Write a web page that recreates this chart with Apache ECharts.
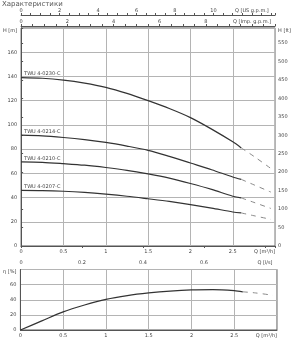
<!DOCTYPE html>
<html>
<head>
<meta charset="utf-8">
<script src="https://cdn.jsdelivr.net/npm/echarts@6/dist/echarts.min.js"></script>
<style>
  html, body { margin: 0; padding: 0; background: #fff; }
  #chart { width: 294px; height: 340px; }
</style>
</head>
<body>
<div id="chart"></div>
<script>
// flow points, m3/h
var q = [0, 0.25, 0.5, 0.75, 1, 1.25, 1.5, 1.75, 2, 2.25, 2.5, 2.6];
var h0230 = [139, 138.5, 137, 134.5, 131, 126, 120, 113.5, 106, 96.5, 86, 81];
var h0214 = [91.5, 91, 89.6, 87.8, 85.5, 82.5, 79, 74, 68.5, 63, 57, 55];
var h0210 = [69.5, 69.1, 68, 66.7, 64.8, 62.5, 59.5, 56, 51.6, 46.7, 41.1, 39.7];
var h0207 = [46, 45.8, 45.2, 44.2, 42.8, 41.1, 39, 36.8, 34.2, 31.3, 28.1, 27.3];
var eta = [0, 12, 24, 33, 40.5, 45.5, 49, 51.5, 53, 53.3, 52, 50.5];

// dashed continuation beyond the working range
var qx = [2.6, 2.75, 2.95];
var x0230 = [81, 74, 64];
var x0214 = [55, 50.5, 44.5];
var x0210 = [39.7, 36, 31];
var x0207 = [27.3, 25, 22];
var xeta = [50.5, 49, 46];

var names = ['TWU 4-0230-C', 'TWU 4-0214-C', 'TWU 4-0210-C', 'TWU 4-0207-C'];
var heads = [h0230, h0214, h0210, h0207];
var extra = [x0230, x0214, x0210, x0207];

var qMax = 3;
var hMax = 180;
var font = 'DejaVu Sans';
var lbl = { fontSize: 5, color: '#444', fontFamily: font };

function pairs(xs, ys) {
    return xs.map(function (x, i) { return [x, ys[i]]; });
}
function fmtNum(v) {
    return String(Math.round(v * 100) / 100);
}

var chart = echarts.init(document.getElementById('chart'));

var series = [];
heads.forEach(function (h, i) {
    series.push({
        name: names[i],
        type: 'line',
        xAxisIndex: 0,
        yAxisIndex: 0,
        data: pairs(q, h),
        smooth: 0.3,
        symbol: 'none',
        lineStyle: { color: '#333', width: 1.2 },
        markPoint: {
            symbol: 'circle',
            symbolSize: 0,
            silent: true,
            data: [{ coord: [q[0], h[0]] }],
            label: {
                show: true,
                position: 'top',
                distance: 1,
                align: 'left',
                offset: [3, 0],
                formatter: names[i],
                fontSize: 5,
                color: '#444',
                fontFamily: font
            }
        }
    });
    series.push({
        type: 'line',
        xAxisIndex: 0,
        yAxisIndex: 0,
        data: pairs(qx, extra[i]),
        smooth: 0.3,
        symbol: 'none',
        lineStyle: { color: '#888', width: 1, type: [5, 5] }
    });
});
series.push({
    type: 'line',
    xAxisIndex: 4,
    yAxisIndex: 2,
    data: pairs(q, eta),
    smooth: 0.3,
    symbol: 'none',
    lineStyle: { color: '#333', width: 1.2 }
});
series.push({
    type: 'line',
    xAxisIndex: 4,
    yAxisIndex: 2,
    data: pairs(qx, xeta),
    smooth: 0.3,
    symbol: 'none',
    lineStyle: { color: '#888', width: 1, type: [5, 5] }
});

var gridLine = { show: true, lineStyle: { color: '#b4b4b4', width: 1 } };
var darkLine = { show: true, lineStyle: { color: '#555', width: 1 } };
var tick = { show: true, length: 2, lineStyle: { color: '#555' } };

var option = {
    animation: false,
    title: {
        text: 'Характеристики',
        left: 0,
        top: 0,
        padding: [1, 2],
        textStyle: { fontSize: 7, fontWeight: 'normal', color: '#555', fontFamily: font }
    },
    grid: [
        { left: 19, top: 28, right: 17, height: 218, show: true, borderColor: '#555', borderWidth: 1 },
        { left: 19, top: 269.5, right: 17, height: 60.5, show: true, borderColor: '#555', borderWidth: 1 }
    ],
    xAxis: [
        {   // m3/h, main
            type: 'value', gridIndex: 0, position: 'bottom',
            min: 0, max: qMax, interval: 0.5,
            axisLine: darkLine, axisTick: { show: false },
            splitLine: gridLine,
            axisLabel: Object.assign({}, lbl, {
                margin: 3, alignMaxLabel: 'right',
                formatter: function (v) { return v >= qMax ? 'Q [m³/h]' : fmtNum(v); }
            })
        },
        {   // l/s
            type: 'value', gridIndex: 0, position: 'bottom', offset: 11,
            min: 0, max: qMax / 3.6, interval: 0.2,
            axisLine: darkLine, axisTick: tick,
            splitLine: { show: false },
            axisLabel: Object.assign({}, lbl, {
                margin: 3,
                formatter: function (v) {
                    if (Math.abs(v - 0.8) < 1e-6) return 'Q [l/s]';
                    if (v > 0.81) return '';
                    return fmtNum(v);
                }
            })
        },
        {   // US gpm
            type: 'value', gridIndex: 0, position: 'top', offset: 13,
            min: 0, max: qMax * 4.40287, interval: 0.5,
            axisLine: darkLine, axisTick: tick,
            splitLine: { show: false },
            axisLabel: Object.assign({}, lbl, {
                margin: 2,
                formatter: function (v) {
                    if (Math.abs(v - 12) < 1e-6) return 'Q [US g.p.m.]';
                    if (Math.abs(v % 2) < 1e-6 && v < 12) return fmtNum(v);
                    return '';
                }
            })
        },
        {   // Imp gpm
            type: 'value', gridIndex: 0, position: 'top', offset: 2,
            min: 0, max: qMax * 3.66615, interval: 0.5,
            axisLine: darkLine, axisTick: tick,
            splitLine: { show: false },
            axisLabel: Object.assign({}, lbl, {
                margin: 2,
                formatter: function (v) {
                    if (Math.abs(v - 10) < 1e-6) return 'Q [Imp. g.p.m.]';
                    if (Math.abs(v % 2) < 1e-6 && v < 10) return fmtNum(v);
                    return '';
                }
            })
        },
        {   // m3/h, efficiency
            type: 'value', gridIndex: 1, position: 'bottom',
            min: 0, max: qMax, interval: 0.5,
            axisLine: darkLine, axisTick: { show: false },
            splitLine: gridLine,
            axisLabel: Object.assign({}, lbl, {
                margin: 3, alignMaxLabel: 'right',
                formatter: function (v) { return v >= qMax ? 'Q [m³/h]' : fmtNum(v); }
            })
        }
    ],
    yAxis: [
        {   // H m
            type: 'value', gridIndex: 0, position: 'left',
            min: 0, max: hMax, interval: 20,
            axisLine: darkLine, axisTick: { show: false },
            splitLine: gridLine,
            axisLabel: Object.assign({}, lbl, {
                margin: 4, verticalAlignMaxLabel: 'top',
                formatter: function (v) { return v >= hMax ? 'H [m]' : fmtNum(v); }
            })
        },
        {   // H ft
            type: 'value', gridIndex: 0, position: 'right',
            min: 0, max: hMax / 0.3048, interval: 50,
            axisLine: darkLine, axisTick: tick,
            splitLine: { show: false },
            axisLabel: Object.assign({}, lbl, {
                margin: 3, verticalAlignMaxLabel: 'top',
                formatter: function (v) { return v > 560 ? 'H [ft]' : fmtNum(v); }
            })
        },
        {   // efficiency
            type: 'value', gridIndex: 1, position: 'left',
            min: 0, max: 80, interval: 20,
            axisLine: darkLine, axisTick: { show: false },
            splitLine: gridLine,
            axisLabel: Object.assign({}, lbl, {
                margin: 4, verticalAlignMaxLabel: 'top',
                formatter: function (v) { return v >= 80 ? 'η [%]' : fmtNum(v); }
            })
        }
    ],
    series: series
};
chart.setOption(option);
</script>
</body>
</html>
